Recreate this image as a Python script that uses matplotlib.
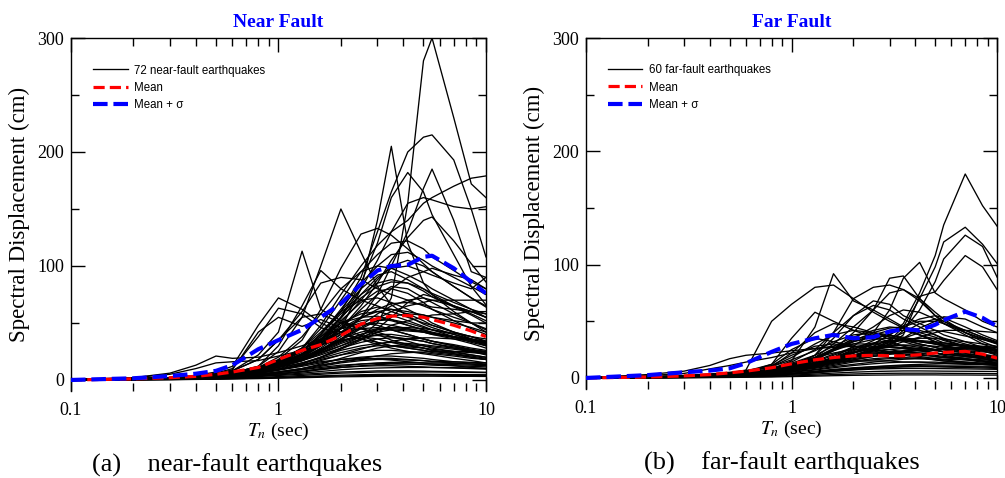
# %%
# Spectral displacement of near-fault and far-fault records
import matplotlib
matplotlib.use('Agg')
import matplotlib.pyplot as plt
from matplotlib.ticker import FixedLocator, FixedFormatter, NullFormatter

# periods (sec) shared by every curve
periods = [0.1, 0.2, 0.3, 0.4, 0.5, 0.6, 0.8, 1.0, 1.3, 1.6, 2.0, 2.5, 3.0, 3.5, 4.2, 5.0, 5.5, 7.0, 8.5, 10.0]

# near-fault records, Sd (cm)
nf01 = [0.2, 1, 2, 3, 5, 7, 11, 15, 19, 24, 30, 38, 50, 72, 155, 280, 300, 230, 172, 160]
nf02 = [0.2, 1, 2, 3, 4, 6, 10, 15, 25, 40, 60, 90, 130, 165, 200, 213, 215, 193, 150, 108]
nf03 = [0.2, 1, 2, 3, 4, 6, 9, 13, 20, 30, 45, 80, 140, 205, 120, 85, 75, 60, 50, 42]
nf04 = [0.2, 1, 2, 3, 4, 6, 9, 14, 22, 35, 55, 85, 120, 160, 182, 165, 145, 110, 82, 66]
nf05 = [0.2, 1, 1.5, 2.5, 4, 5, 8, 12, 18, 26, 38, 55, 75, 100, 130, 168, 185, 140, 95, 90]
nf06 = [0.3, 1, 2, 3, 4, 6, 10, 16, 28, 48, 75, 100, 118, 130, 140, 155, 160, 170, 177, 179]
nf07 = [0.2, 1, 2, 3, 4, 6, 12, 25, 55, 100, 150, 112, 82, 66, 56, 49, 46, 40, 35, 30]
nf08 = [0.2, 1, 2, 3, 5, 8, 22, 42, 113, 62, 52, 45, 40, 35, 31, 28, 26, 23, 20, 18]
nf09 = [0.2, 1, 2, 4, 7, 12, 48, 72, 62, 50, 42, 36, 31, 28, 25, 23, 22, 19, 17, 15]
nf10 = [0.2, 1, 2, 3, 6, 10, 38, 63, 58, 46, 40, 36, 33, 30, 28, 26, 25, 23, 21, 19]
nf11 = [0.2, 1, 2, 3, 5, 9, 42, 55, 47, 53, 46, 39, 33, 30, 28, 26, 24, 22, 20, 18]
nf12 = [0.3, 2, 6, 13, 21, 19, 20, 24, 30, 36, 45, 50, 48, 44, 40, 36, 34, 30, 26, 23]
nf13 = [0.3, 2, 5, 10, 15, 16, 17, 21, 26, 31, 35, 38, 36, 33, 30, 28, 26, 24, 22, 20]
nf14 = [0.2, 1, 2, 3, 4, 6, 10, 18, 35, 62, 98, 128, 133, 127, 115, 102, 95, 82, 72, 64]
nf15 = [0.2, 1, 2, 3, 4, 6, 9, 14, 22, 32, 45, 65, 85, 105, 125, 140, 143, 122, 102, 86]
nf16 = [0.2, 1, 2, 3, 4, 6, 10, 16, 28, 45, 70, 95, 110, 120, 122, 115, 108, 96, 86, 80]
nf17 = [0.2, 1, 2, 3, 4, 6, 11, 20, 38, 58, 80, 95, 100, 98, 92, 85, 80, 70, 62, 55]
nf18 = [0.2, 1, 2, 3, 4, 6, 12, 30, 65, 96, 80, 70, 65, 60, 55, 50, 48, 42, 38, 34]
nf19 = [0.2, 1, 2, 3, 5, 8, 18, 35, 60, 85, 90, 88, 80, 75, 70, 65, 62, 55, 50, 45]
nf20 = [0.2, 1, 2, 3, 4, 5, 8, 12, 20, 30, 45, 62, 75, 82, 80, 72, 68, 58, 50, 44]
nf21 = [0.1, 0.8, 1.5, 2.5, 3.5, 5, 8, 13, 22, 35, 52, 68, 78, 80, 76, 68, 62, 52, 45, 40]
nf22 = [0.2, 1, 2, 3, 4, 6, 10, 17, 28, 42, 60, 70, 72, 68, 62, 55, 50, 42, 36, 32]
nf23 = [0.2, 1, 1.8, 2.8, 4, 6, 9, 15, 25, 38, 55, 72, 82, 86, 85, 80, 76, 68, 62, 58]
nf24 = [0.1, 0.8, 1.5, 2.5, 3.5, 5, 8, 12, 18, 26, 36, 48, 58, 65, 70, 72, 70, 65, 60, 55]
nf25 = [0.2, 1, 2, 3, 4, 5, 8, 13, 22, 33, 48, 60, 64, 62, 58, 52, 48, 42, 38, 34]
nf26 = [0.2, 1, 2, 3, 4, 6, 9, 14, 23, 35, 50, 58, 60, 57, 52, 47, 44, 38, 33, 30]
nf27 = [0.2, 1, 2, 3, 4, 6, 10, 16, 26, 38, 50, 55, 56, 53, 48, 44, 42, 38, 35, 32]
nf28 = [0.1, 0.8, 1.5, 2.5, 3.5, 5, 7, 11, 17, 25, 35, 45, 52, 56, 58, 57, 55, 50, 46, 42]
nf29 = [0.2, 1, 2, 3, 4, 6, 9, 14, 22, 32, 42, 48, 50, 48, 45, 42, 40, 36, 32, 28]
nf30 = [0.2, 1, 2, 3, 5, 7, 11, 17, 26, 35, 42, 45, 46, 44, 40, 36, 34, 30, 27, 25]
nf31 = [0.1, 0.8, 1.5, 2.5, 3.5, 5, 8, 12, 19, 27, 36, 42, 45, 46, 45, 43, 41, 38, 35, 33]
nf32 = [0.2, 1, 2, 3, 5, 8, 18, 35, 55, 58, 50, 45, 42, 38, 34, 30, 28, 25, 22, 20]
nf33 = [0.1, 0.6, 1.2, 2, 3, 4, 6, 9, 14, 20, 27, 35, 42, 48, 52, 55, 57, 58, 60, 60]
nf34 = [0.1, 0.7, 1.4, 2.2, 3, 4, 6, 9, 14, 20, 28, 36, 45, 55, 68, 75, 73, 65, 60, 55]
nf35 = [0.2, 1, 2, 3, 4, 5, 8, 12, 19, 28, 40, 55, 68, 80, 90, 95, 98, 92, 88, 80]
nf36 = [0.2, 1, 2, 3, 4, 6, 9, 14, 22, 35, 55, 80, 105, 130, 155, 160, 158, 152, 150, 152]
nf37 = [0.1, 0.5, 1, 1.8, 2.5, 3.5, 5, 7, 10, 13, 16, 18, 19, 19, 18, 17, 16, 15, 14, 13]
nf38 = [0.1, 0.4, 0.8, 1.4, 2, 2.8, 4, 5.5, 7.5, 9.5, 11, 12, 12.5, 12.5, 12, 11.5, 11, 10.5, 10, 9.5]
nf39 = [0.1, 0.3, 0.6, 1, 1.5, 2, 3, 4, 5, 6, 7, 7.5, 8, 8, 8, 7.8, 7.6, 7.3, 7, 6.8]
nf40 = [0.05, 0.2, 0.4, 0.7, 1, 1.3, 1.8, 2.4, 3, 3.6, 4.2, 4.6, 4.9, 5, 5, 5, 4.9, 4.8, 4.7, 4.6]
nf41 = [0.1, 0.6, 1.2, 2, 3, 4, 6, 9, 13, 18, 22, 25, 26, 26, 25, 24, 23, 21, 19, 18]
nf42 = [0.2, 0.8, 1.6, 2.6, 3.8, 5, 8, 11, 15, 19, 24, 28, 30, 30, 29, 28, 27, 25, 24, 23]
nf43 = [0.1, 0.5, 1, 1.6, 2.3, 3, 4.5, 6.5, 9, 12, 15, 17, 18, 18, 17.5, 17, 16.5, 16, 15.5, 15]
nf44 = [0.1, 0.5, 1.1, 1.9, 2.8, 4, 6, 8.5, 12, 15, 18, 20, 21, 21, 20, 19, 18, 16, 15, 14]
nf45 = [0.1, 0.3, 0.7, 1.2, 1.7, 2.3, 3.3, 4.5, 6, 7.5, 9, 10, 10.5, 10.8, 11, 11, 11, 10.8, 10.5, 10.2]
nf46 = [0.05, 0.2, 0.5, 0.8, 1.2, 1.6, 2.2, 3, 4, 5, 6, 6.5, 7, 7, 7, 7, 7, 6.8, 6.6, 6.4]
nf47 = [0.05, 0.15, 0.3, 0.5, 0.7, 0.9, 1.2, 1.6, 2, 2.4, 2.8, 3, 3.2, 3.3, 3.3, 3.3, 3.3, 3.2, 3.2, 3.1]
nf48 = [0.1, 0.6, 1.3, 2.2, 3.2, 4.5, 7, 10, 15, 20, 26, 30, 32, 33, 32, 31, 30, 28, 26, 25]
nf49 = [0.1, 0.7, 1.5, 2.5, 3.6, 5, 8, 12, 17, 23, 30, 36, 40, 40, 38, 36, 34, 31, 28, 26]
nf50 = [0.2, 0.9, 1.8, 3, 4.3, 6, 9, 14, 20, 27, 34, 38, 39, 38, 36, 34, 32, 28, 25, 22]
nf51 = [0.1, 0.5, 1, 1.7, 2.5, 3.4, 5, 7, 10, 13, 16, 19, 21, 23, 24, 24.5, 25, 25, 25, 25]
nf52 = [0.1, 0.4, 0.9, 1.5, 2.2, 3, 4.5, 6.5, 9, 11, 13, 14, 14.5, 14.5, 14, 13.5, 13, 12.5, 12, 11.5]
nf53 = [0.1, 0.6, 1.2, 2, 3, 4.2, 6.5, 9.5, 13, 16, 18, 19, 18.5, 17.5, 16, 15, 14, 12.5, 11, 10]
nf54 = [0.1, 0.5, 1.1, 1.8, 2.7, 3.8, 6, 9, 13, 17, 22, 27, 31, 34, 36, 37, 37, 36, 34, 32]
nf55 = [0.2, 0.8, 1.7, 2.8, 4, 5.5, 8.5, 12, 17, 22, 28, 33, 36, 37, 36, 34, 32, 29, 26, 24]
nf56 = [0.1, 0.4, 0.8, 1.3, 1.9, 2.6, 3.8, 5.2, 7, 9, 11, 12.5, 13.5, 14, 14, 14, 14, 13.5, 13, 12.5]
nf57 = [0.05, 0.2, 0.4, 0.6, 0.9, 1.2, 1.6, 2, 2.5, 3, 3.5, 3.8, 4, 4.1, 4.2, 4.2, 4.2, 4.1, 4, 4]
nf58 = [0.1, 0.5, 1, 1.6, 2.4, 3.3, 5, 7, 10, 14, 19, 24, 28, 30, 31, 30, 29, 27, 25, 23]
nf59 = [0.2, 1, 2, 3, 4.5, 6, 10, 15, 22, 30, 40, 48, 52, 53, 50, 46, 44, 40, 36, 33]
nf60 = [0.1, 0.7, 1.5, 2.4, 3.5, 5, 8, 12, 18, 25, 33, 40, 44, 45, 44, 42, 41, 38, 36, 34]
nf61 = [0.2, 1, 2, 3.2, 4.5, 6.5, 11, 17, 26, 36, 46, 52, 54, 52, 48, 44, 41, 37, 34, 31]
nf62 = [0.1, 0.6, 1.3, 2.2, 3.2, 4.5, 7, 11, 17, 24, 32, 38, 42, 44, 43, 42, 40, 38, 35, 33]
nf63 = [0.1, 0.4, 0.8, 1.3, 1.9, 2.6, 4, 5.5, 7.5, 10, 12, 14, 15, 15.5, 15.5, 15, 15, 14.5, 14, 13.5]
nf64 = [0.2, 1, 2, 3, 4.2, 5.8, 9, 13, 19, 26, 34, 40, 44, 46, 46, 45, 44, 41, 38, 36]
nf65 = [0.1, 0.8, 1.6, 2.6, 3.8, 5.3, 8, 12, 18, 26, 36, 46, 54, 60, 65, 68, 70, 70, 70, 70]
nf66 = [0.2, 1, 2, 3, 4.4, 6, 9.5, 14, 21, 30, 42, 54, 62, 67, 68, 66, 64, 62, 60, 58]
nf67 = [0.2, 1, 2, 3, 4.5, 6.5, 10, 15, 23, 33, 45, 55, 60, 62, 60, 57, 55, 52, 50, 50]
nf68 = [0.2, 1, 2, 3, 4, 6, 9, 14, 22, 34, 50, 70, 88, 100, 105, 100, 95, 82, 72, 65]
nf69 = [0.2, 1, 2, 3, 4, 6, 10, 16, 26, 40, 60, 80, 92, 95, 88, 80, 75, 65, 58, 52]
nf70 = [0.2, 1, 2, 3, 4, 6, 9, 14, 23, 36, 54, 75, 90, 98, 100, 95, 92, 85, 80, 90]
nf71 = [0.2, 1, 2, 3, 4, 6, 9, 15, 25, 40, 62, 85, 100, 110, 112, 105, 100, 90, 82, 75]
nf72 = [0.2, 1, 2, 3, 4, 6, 10, 16, 26, 40, 58, 75, 85, 88, 85, 78, 73, 64, 57, 50]

near_mean = [0, 1, 2, 3.2, 5, 7, 11, 18, 26, 31, 39, 49, 54, 56, 56.5, 55, 53, 48, 43, 38]
near_mean_sig = [0, 1.5, 3.5, 5.5, 8, 13, 27, 35, 44, 55, 67, 84, 96, 100, 101, 108, 109, 98, 86, 76]

# far-fault records, Sd (cm)
ff01 = [0.1, 0.6, 1.2, 2, 3, 4, 6, 9, 13, 18, 24, 30, 38, 48, 75, 108, 135, 180, 152, 134]
ff02 = [0.1, 0.5, 1, 1.7, 2.5, 3.5, 5, 7.5, 11, 15, 20, 26, 33, 45, 70, 98, 120, 133, 118, 101]
ff03 = [0.1, 0.5, 1, 1.6, 2.4, 3.3, 5, 7, 10, 14, 19, 25, 32, 42, 60, 85, 105, 126, 116, 89]
ff04 = [0.1, 0.5, 1, 1.6, 2.3, 3.2, 4.8, 7, 10, 14, 18, 24, 30, 38, 72, 76, 86, 108, 98, 78]
ff05 = [0.1, 0.5, 1, 1.6, 2.3, 3.2, 5, 8, 12, 18, 28, 40, 60, 88, 102, 75, 70, 60, 50, 45]
ff06 = [0.1, 0.5, 1, 1.7, 2.5, 3.5, 6, 10, 18, 30, 45, 60, 88, 90, 70, 55, 50, 40, 35, 30]
ff07 = [0.1, 0.6, 1.2, 2, 3, 4, 8, 15, 45, 92, 68, 60, 52, 45, 38, 32, 29, 24, 20, 18]
ff08 = [0.1, 0.7, 1.5, 2.5, 4, 7, 50, 65, 80, 82, 70, 58, 50, 44, 38, 32, 29, 24, 20, 17]
ff09 = [0.1, 0.5, 1, 1.7, 2.5, 3.5, 6, 10, 20, 40, 70, 80, 82, 78, 68, 55, 48, 38, 30, 25]
ff10 = [0.1, 0.5, 1, 1.7, 2.5, 3.5, 5.5, 9, 15, 25, 40, 60, 75, 78, 70, 58, 52, 40, 32, 27]
ff11 = [0.1, 0.6, 1.2, 2, 3, 4.5, 8, 14, 25, 40, 55, 64, 60, 52, 45, 38, 34, 28, 24, 20]
ff12 = [0.1, 0.5, 1, 1.7, 2.6, 3.8, 6, 10, 16, 25, 35, 45, 55, 60, 58, 52, 48, 40, 34, 30]
ff13 = [0.1, 0.5, 1, 1.8, 2.7, 4, 6.5, 11, 20, 35, 55, 68, 65, 55, 48, 42, 38, 32, 27, 24]
ff14 = [0.1, 0.5, 1, 1.6, 2.4, 3.3, 5, 8, 12, 18, 25, 33, 40, 46, 52, 55, 53, 45, 38, 33]
ff15 = [0.1, 0.4, 0.9, 1.5, 2.2, 3, 4.6, 7, 11, 16, 22, 30, 38, 45, 50, 50, 48, 42, 36, 31]
ff16 = [0.1, 0.6, 1.3, 2.2, 3.5, 5, 12, 35, 58, 50, 42, 36, 32, 28, 25, 22, 20, 17, 15, 13]
ff17 = [0.1, 0.6, 1.3, 2.2, 3.4, 5, 10, 22, 40, 48, 45, 40, 36, 33, 30, 27, 25, 22, 19, 17]
ff18 = [0.2, 1, 2, 3, 4.5, 6, 10, 18, 30, 38, 42, 40, 36, 32, 28, 25, 23, 20, 17, 15]
ff19 = [0.1, 0.5, 1, 1.7, 2.5, 3.5, 6, 10, 17, 25, 33, 40, 44, 45, 42, 38, 35, 30, 26, 23]
ff20 = [0.1, 0.5, 1, 1.7, 2.5, 3.6, 6, 10, 16, 24, 32, 38, 42, 42, 38, 34, 31, 27, 24, 21]
ff21 = [0.1, 0.6, 1.2, 2, 3, 4.2, 7, 11, 18, 26, 34, 38, 38, 35, 32, 30, 29, 28, 27, 27]
ff22 = [0.1, 0.5, 1.1, 1.8, 2.7, 3.8, 6, 9.5, 15, 21, 27, 31, 33, 33, 32, 31, 30, 29, 28, 27]
ff23 = [0.1, 0.4, 0.9, 1.5, 2.2, 3, 4.8, 7.5, 12, 17, 22, 26, 28, 29, 29, 28, 27, 26, 25, 24]
ff24 = [0.1, 0.5, 1, 1.6, 2.4, 3.3, 5.2, 8, 12, 16, 20, 23, 25, 26, 26, 25, 25, 24, 23, 22]
ff25 = [0.1, 0.4, 0.8, 1.3, 2, 2.8, 4.4, 6.5, 9.5, 13, 16, 19, 21, 22, 22, 22, 21, 20, 19, 18]
ff26 = [0.1, 0.4, 0.8, 1.3, 1.9, 2.6, 4, 6, 8.5, 11, 14, 16, 17, 17.5, 17.5, 17, 16.5, 16, 15, 14]
ff27 = [0.1, 0.3, 0.7, 1.1, 1.6, 2.2, 3.4, 5, 7, 9, 11, 12.5, 13.5, 14, 14, 14, 13.5, 13, 12.5, 12]
ff28 = [0.05, 0.3, 0.6, 1, 1.4, 1.9, 2.9, 4.2, 6, 7.6, 9, 10, 10.5, 10.8, 10.8, 10.6, 10.4, 10, 9.6, 9.2]
ff29 = [0.05, 0.2, 0.5, 0.8, 1.1, 1.5, 2.3, 3.3, 4.6, 5.8, 7, 7.8, 8.2, 8.4, 8.4, 8.3, 8.2, 8, 7.8, 7.6]
ff30 = [0.05, 0.2, 0.4, 0.6, 0.9, 1.2, 1.8, 2.5, 3.4, 4.3, 5.1, 5.7, 6, 6.2, 6.2, 6.1, 6, 5.9, 5.8, 5.7]
ff31 = [0.03, 0.15, 0.3, 0.5, 0.7, 0.9, 1.3, 1.8, 2.4, 3, 3.5, 3.9, 4.1, 4.2, 4.2, 4.2, 4.1, 4, 3.9, 3.8]
ff32 = [0.02, 0.1, 0.2, 0.3, 0.45, 0.6, 0.85, 1.2, 1.6, 2, 2.3, 2.5, 2.6, 2.7, 2.7, 2.7, 2.6, 2.6, 2.5, 2.5]
ff33 = [0.1, 0.5, 1, 1.7, 2.5, 3.5, 5.5, 8.5, 13, 18, 23, 27, 29, 29, 27, 25, 23, 20, 18, 16]
ff34 = [0.1, 0.4, 0.9, 1.5, 2.2, 3.1, 5, 7.5, 11, 15, 19, 22, 23, 23, 22, 20, 19, 17, 15, 13]
ff35 = [0.1, 0.4, 0.8, 1.3, 1.9, 2.7, 4.2, 6.2, 9, 12, 15, 17, 18, 18, 17, 16, 15, 14, 13, 12]
ff36 = [0.1, 0.6, 1.2, 2, 3, 4.3, 7, 11, 17, 24, 30, 34, 35, 34, 32, 30, 28, 26, 25, 24]
ff37 = [0.1, 0.5, 1.1, 1.8, 2.7, 3.8, 6, 9, 13, 18, 23, 26, 27, 27, 26, 24, 23, 21, 20, 19]
ff38 = [0.1, 0.6, 1.3, 2.2, 3.3, 4.7, 8, 13, 20, 28, 36, 42, 45, 44, 40, 36, 33, 28, 25, 22]
ff39 = [0.1, 0.5, 1, 1.6, 2.4, 3.3, 5, 7.5, 11, 16, 22, 28, 34, 40, 48, 52, 50, 42, 36, 32]
ff40 = [0.1, 0.5, 1, 1.6, 2.3, 3.2, 5, 7.5, 11, 15, 20, 25, 30, 35, 40, 42, 41, 37, 34, 31]
ff41 = [0.1, 0.5, 1, 1.6, 2.3, 3.2, 5, 7.5, 11, 15, 19, 24, 28, 32, 36, 40, 42, 42, 41, 40]
ff42 = [0.1, 0.5, 1, 1.6, 2.4, 3.3, 5.2, 8, 12, 17, 22, 27, 31, 34, 35, 35, 34, 32, 30, 28]
ff43 = [0.1, 0.4, 0.9, 1.5, 2.2, 3, 4.8, 7.2, 10.5, 14, 18, 21, 23, 24, 25, 25, 25, 25, 24, 24]
ff44 = [0.2, 0.9, 1.8, 3, 4.5, 6.5, 10, 16, 24, 32, 38, 40, 38, 34, 30, 27, 25, 22, 19, 17]
ff45 = [0.2, 1, 2, 3, 4, 6, 12, 25, 35, 32, 28, 25, 22, 20, 18, 16, 15, 13, 12, 11]
ff46 = [0.1, 0.7, 1.5, 2.5, 3.8, 5.5, 11, 20, 28, 30, 28, 25, 23, 21, 19, 17, 16, 14, 13, 12]
ff47 = [0.1, 0.6, 1.2, 2, 3, 4.3, 7.5, 12, 18, 22, 25, 26, 25, 23, 21, 19, 18, 16, 14, 13]
ff48 = [0.1, 0.5, 1.1, 1.8, 2.7, 3.8, 6, 9, 13, 17, 20, 22, 22, 21, 20, 19, 18, 17, 16, 15]
ff49 = [0.2, 1, 2.2, 3.5, 5, 6.5, 9, 11, 13, 14, 15, 15, 15, 14, 14, 13, 13, 12, 12, 11]
ff50 = [0.3, 3, 6, 11, 17, 20, 22, 24, 26, 27, 28, 28, 27, 26, 24, 22, 21, 19, 17, 15]
ff51 = [0.2, 2, 4, 8, 11, 14, 18, 22, 26, 28, 30, 30, 28, 26, 24, 22, 21, 19, 17, 16]
ff52 = [0.1, 0.5, 1, 1.6, 2.3, 3.1, 4.8, 7, 10, 13, 16, 19, 21, 23, 24, 25, 26, 27, 27, 27]
ff53 = [0.1, 0.4, 0.8, 1.3, 1.8, 2.5, 3.8, 5.5, 7.5, 10, 12, 14, 15.5, 16.5, 17, 17.5, 18, 18.5, 18.5, 18.5]
ff54 = [0.05, 0.3, 0.6, 1, 1.4, 1.9, 2.8, 4, 5.5, 7, 8.5, 9.8, 10.8, 11.5, 12, 12.3, 12.5, 12.5, 12.5, 12.5]
ff55 = [0.1, 0.6, 1.3, 2.1, 3.1, 4.4, 7.5, 12, 18, 25, 32, 36, 37, 36, 33, 30, 28, 24, 21, 19]
ff56 = [0.1, 0.5, 1.1, 1.8, 2.6, 3.7, 6, 9, 14, 20, 26, 30, 32, 33, 33, 32, 31, 29, 27, 25]
ff57 = [0.05, 0.2, 0.5, 0.8, 1.1, 1.5, 2.3, 3.3, 4.6, 6, 7.3, 8.4, 9.2, 9.8, 10.2, 10.4, 10.5, 10.5, 10.4, 10.3]
ff58 = [0.05, 0.25, 0.5, 0.9, 1.3, 1.8, 2.7, 3.8, 5.2, 6.6, 8, 9, 9.6, 10, 10, 9.8, 9.6, 9.2, 8.8, 8.4]
ff59 = [0.1, 0.4, 0.9, 1.4, 2.1, 2.9, 4.5, 6.8, 10, 13.5, 17, 20, 22, 23.5, 24.5, 25, 25.5, 26, 26, 25.5]
ff60 = [0.1, 0.5, 1, 1.6, 2.3, 3.2, 5, 7.5, 11, 15, 19, 24, 29, 35, 44, 50, 54, 52, 45, 40]

far_mean = [0, 0.8, 1.8, 3, 4.5, 6, 9, 12.5, 16, 18, 19.5, 20, 19.5, 19.5, 20.5, 22, 22.5, 23.5, 21, 17.5]
far_mean_sig = [0, 2.5, 5, 6.5, 8.5, 13, 23, 30, 35, 38, 35, 36, 41, 43, 42, 47, 51, 58.5, 53, 45.5]

near_curves = [nf01, nf02, nf03, nf04, nf05, nf06, nf07, nf08, nf09, nf10, nf11, nf12,
               nf13, nf14, nf15, nf16, nf17, nf18, nf19, nf20, nf21, nf22, nf23, nf24,
               nf25, nf26, nf27, nf28, nf29, nf30, nf31, nf32, nf33, nf34, nf35, nf36,
               nf37, nf38, nf39, nf40, nf41, nf42, nf43, nf44, nf45, nf46, nf47, nf48,
               nf49, nf50, nf51, nf52, nf53, nf54, nf55, nf56, nf57, nf58, nf59, nf60,
               nf61, nf62, nf63, nf64, nf65, nf66, nf67, nf68, nf69, nf70, nf71, nf72]
far_curves = [ff01, ff02, ff03, ff04, ff05, ff06, ff07, ff08, ff09, ff10, ff11, ff12,
              ff13, ff14, ff15, ff16, ff17, ff18, ff19, ff20, ff21, ff22, ff23, ff24,
              ff25, ff26, ff27, ff28, ff29, ff30, ff31, ff32, ff33, ff34, ff35, ff36,
              ff37, ff38, ff39, ff40, ff41, ff42, ff43, ff44, ff45, ff46, ff47, ff48,
              ff49, ff50, ff51, ff52, ff53, ff54, ff55, ff56, ff57, ff58, ff59, ff60]

plt.rcParams['font.family'] = 'Liberation Serif'
plt.rcParams['mathtext.fontset'] = 'stix'

# %%
# one panel
def draw_panel(ax, curves, mean, mean_sig, label, title):
    for k, sd in enumerate(curves):
        ax.plot(periods, sd, color='black', lw=0.95, label=label if k == 0 else None, zorder=2)
    ax.plot(periods, mean, color='red', lw=2.3, ls=(0, (3.5, 1.6)), label='Mean', zorder=3)
    ax.plot(periods, mean_sig, color='blue', lw=3.0, ls=(0, (3.5, 1.4)), label='Mean + σ', zorder=4)

    ax.set_xscale('log')
    ax.set_xlim(0.1, 10)
    ax.set_ylim(-10, 300)
    ax.xaxis.set_major_locator(FixedLocator([0.1, 1, 10]))
    ax.xaxis.set_major_formatter(FixedFormatter(['0.1', '1', '10']))
    ax.xaxis.set_minor_locator(FixedLocator([0.2, 0.3, 0.4, 0.5, 0.6, 0.7, 0.8, 0.9,
                                             2, 3, 4, 5, 6, 7, 8, 9]))
    ax.xaxis.set_minor_formatter(NullFormatter())
    ax.yaxis.set_major_locator(FixedLocator([0, 100, 200, 300]))
    ax.yaxis.set_minor_locator(FixedLocator([50, 150, 250]))

    ax.tick_params(which='both', direction='in', top=True, right=True, width=1.0, labelsize=13)
    ax.tick_params(which='major', length=10)
    ax.tick_params(which='minor', length=5.5)
    ax.tick_params(axis='x', pad=8)
    ax.tick_params(axis='y', pad=5)
    ax.spines['bottom'].set_visible(False)
    for s in ['left', 'right', 'top']:
        ax.spines[s].set_linewidth(1.0)

    ax.set_xlabel(r'$T_n$ (sec)', fontsize=14, labelpad=1)
    ax.set_ylabel('Spectral Displacement (cm)', fontsize=16.5, labelpad=5)
    ax.set_title(title, color='blue', fontweight='bold', fontsize=14, pad=8)

    ax.legend(loc='upper left', bbox_to_anchor=(0.053, 0.925), frameon=False,
              prop={'family': 'Liberation Sans', 'size': 8.3}, handlelength=3.0,
              handletextpad=0.6, labelspacing=0.45, borderpad=0, borderaxespad=0)


fig = plt.figure(figsize=(10.05, 4.78), dpi=100)
ax1 = fig.add_axes([0.0706, 0.1812, 0.4129, 0.7393])
ax2 = fig.add_axes([0.5831, 0.1856, 0.4090, 0.7349])

draw_panel(ax1, near_curves, near_mean, near_mean_sig, '72 near-fault earthquakes', 'Near Fault')
draw_panel(ax2, far_curves, far_mean, far_mean_sig, '60 far-fault earthquakes', 'Far Fault')

fig.text(0.2358, 0.027, '(a)    near-fault earthquakes', ha='center', va='center', fontsize=19)
fig.text(0.778, 0.031, '(b)    far-fault earthquakes', ha='center', va='center', fontsize=19)

fig.savefig('out.png', dpi=100)
